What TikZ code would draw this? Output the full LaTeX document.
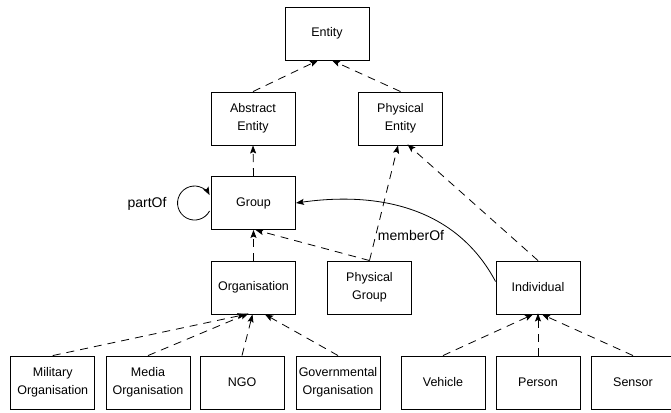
\documentclass[tikz,border=0pt]{standalone}
\usepackage{fontspec}
\setmainfont{Liberation Sans}
\usetikzlibrary{arrows.meta}
\begin{document}
\begin{tikzpicture}[x=1pt,y=-1pt,
  box/.style={draw, line width=0.9pt, rectangle, minimum width=84pt, minimum height=53pt,
    inner sep=0pt, align=center, font=\fontsize{12.5}{18.5}\selectfont},
  isa/.style={dashed, dash pattern=on 8pt off 6pt, line width=0.8pt,
    -{Stealth[length=8pt,width=6pt,inset=1.5pt]}},
  rel/.style={line width=0.8pt, -{Stealth[length=8pt,width=6pt,inset=1.5pt]}},
  lbl/.style={font=\fontsize{14}{16}\selectfont}]
\clip (0,0) rectangle (671,412);
\node[box] (ent) at (327,33.5) {Entity};
\node[box] (abs) at (253,118.5) {Abstract\\Entity};
\node[box] (phys) at (400.5,118.5) {Physical\\Entity};
\node[box] (grp) at (253.5,203) {Group};
\node[box] (org) at (253.5,287.5) {Organisation};
\node[box] (pgrp) at (369.5,287.5) {Physical\\Group};
\node[box] (ind) at (538,287.5) {Individual};
\node[box] (mil) at (52.75,382.5) {Military\\Organisation};
\node[box] (med) at (148,382.5) {Media\\Organisation};
\node[box] (ngo) at (242,382.5) {NGO};
\node[box] (gov) at (338,382.5) {Governmental\\Organisation};
\node[box] (veh) at (443,382.5) {Vehicle};
\node[box] (per) at (538,382.5) {Person};
\node[box] (sen) at (633,382.5) {Sensor};

% is-a edges
\draw[isa] (abs.north) -- ([xshift=-9pt]ent.south);
\draw[isa] (phys.north) -- ([xshift=5pt]ent.south);
\draw[isa] (grp.north) -- (abs.south);
\draw[isa] (org.north) -- (grp.south);
\draw[isa] (pgrp.north) -- ([xshift=2pt]grp.south);
\draw[isa] (pgrp.north) -- ([xshift=-2.5pt]phys.south);
\draw[isa] (ind.north) -- ([xshift=7pt,yshift=1pt]phys.south);
\draw[isa] (mil.north) -- ([xshift=-8pt]org.south);
\draw[isa] (med.north) -- ([xshift=-5pt,yshift=1pt]org.south);
\draw[isa] (ngo.north) -- ([xshift=-1pt]org.south);
\draw[isa] (gov.north) -- ([xshift=11.5pt]org.south);
\draw[isa] (veh.north) -- ([xshift=-5pt]ind.south);
\draw[isa] (per.north) -- ([yshift=1pt]ind.south);
\draw[isa] (sen.north) -- ([xshift=4pt]ind.south);

% memberOf
\draw[rel] ([yshift=6pt]ind.west) to[out=118, in=8] (grp.east);
\node[lbl] (mof) at (411,235) {memberOf};

% partOf loop
\coordinate (ls) at ([xshift=-1.5pt,yshift=-8pt]grp.west);
\draw[rel] (ls) arc[start angle=28, end angle=332, radius=17];
\node[lbl] (pof) at (147,203.5) {partOf};
\end{tikzpicture}
\end{document}
